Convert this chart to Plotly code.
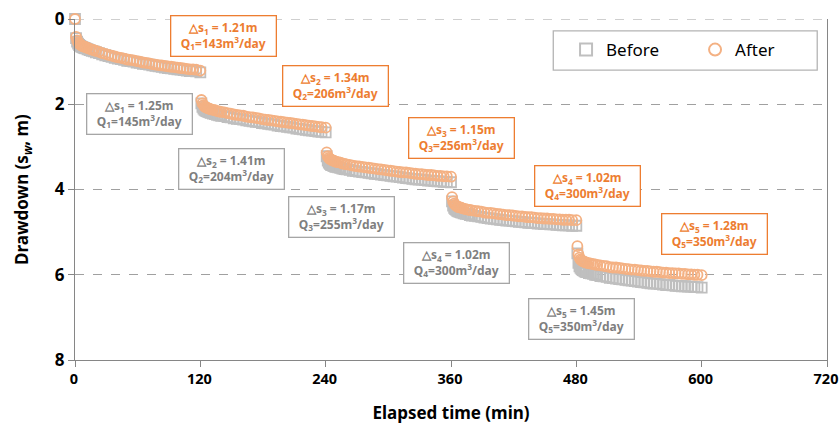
import plotly.graph_objects as go

# ---- data ----
STEP_START = [0, 120, 240, 360, 480]
REL_T = [1, 2, 3, 4, 5, 6, 7, 8, 9, 10, 12, 14, 16, 18, 20,
         23, 26, 29, 32, 35, 38, 41, 44, 47, 50, 53, 56, 59, 62, 65, 68, 71, 74, 77, 80,
         83, 86, 89, 92, 95, 98, 101, 104, 107, 110, 113, 116, 120]

after_s1 = [0.42, 0.50, 0.55, 0.58, 0.60, 0.62, 0.63, 0.64, 0.65, 0.66, 0.68, 0.70, 0.72, 0.73, 0.75,
            0.77, 0.80, 0.82, 0.84, 0.86, 0.88, 0.90, 0.91, 0.93, 0.95, 0.96, 0.97, 0.99, 1.00, 1.02, 1.03, 1.04,
            1.06, 1.07, 1.08, 1.09, 1.10, 1.11, 1.12, 1.13, 1.14, 1.15, 1.16, 1.17, 1.18, 1.18, 1.19, 1.21]
after_s2 = [1.90, 1.98, 2.02, 2.05, 2.07, 2.08, 2.09, 2.10, 2.11, 2.12, 2.13, 2.14, 2.16, 2.17, 2.18,
            2.19, 2.21, 2.22, 2.24, 2.25, 2.26, 2.27, 2.29, 2.30, 2.31, 2.32, 2.33, 2.35, 2.36, 2.37, 2.38, 2.39,
            2.40, 2.41, 2.42, 2.43, 2.44, 2.45, 2.46, 2.47, 2.48, 2.49, 2.50, 2.51, 2.52, 2.53, 2.54, 2.55]
after_s3 = [3.13, 3.22, 3.26, 3.28, 3.30, 3.31, 3.32, 3.33, 3.34, 3.35, 3.36, 3.37, 3.39, 3.40, 3.41,
            3.42, 3.44, 3.45, 3.46, 3.47, 3.48, 3.49, 3.50, 3.51, 3.52, 3.53, 3.54, 3.55, 3.56, 3.57, 3.58, 3.59,
            3.60, 3.60, 3.61, 3.62, 3.63, 3.64, 3.64, 3.65, 3.66, 3.66, 3.67, 3.68, 3.68, 3.69, 3.69, 3.70]
after_s4 = [4.18, 4.28, 4.33, 4.36, 4.38, 4.40, 4.41, 4.42, 4.42, 4.43, 4.45, 4.46, 4.47, 4.48, 4.49,
            4.50, 4.51, 4.52, 4.54, 4.55, 4.55, 4.56, 4.57, 4.58, 4.59, 4.60, 4.60, 4.61, 4.62, 4.63, 4.63, 4.64,
            4.65, 4.65, 4.66, 4.67, 4.67, 4.68, 4.68, 4.69, 4.69, 4.70, 4.70, 4.71, 4.71, 4.71, 4.72, 4.72]
after_s5 = [5.33, 5.52, 5.60, 5.64, 5.66, 5.68, 5.69, 5.70, 5.71, 5.72, 5.73, 5.74, 5.75, 5.76, 5.77,
            5.78, 5.79, 5.80, 5.82, 5.83, 5.83, 5.84, 5.85, 5.86, 5.87, 5.88, 5.88, 5.89, 5.90, 5.91, 5.91, 5.92,
            5.93, 5.93, 5.94, 5.95, 5.95, 5.96, 5.96, 5.97, 5.97, 5.98, 5.98, 5.99, 5.99, 6.00, 6.00, 6.01]

before_s1 = [0.45, 0.53, 0.58, 0.61, 0.63, 0.65, 0.66, 0.67, 0.68, 0.69, 0.71, 0.73, 0.75, 0.76, 0.78,
             0.80, 0.83, 0.85, 0.87, 0.89, 0.91, 0.93, 0.94, 0.96, 0.98, 0.99, 1.00, 1.02, 1.03, 1.05, 1.06, 1.07,
             1.09, 1.10, 1.11, 1.12, 1.14, 1.15, 1.16, 1.17, 1.18, 1.19, 1.20, 1.21, 1.22, 1.22, 1.23, 1.25]
before_s2 = [1.98, 2.06, 2.10, 2.13, 2.15, 2.16, 2.17, 2.18, 2.19, 2.20, 2.22, 2.23, 2.25, 2.26, 2.27,
             2.28, 2.30, 2.31, 2.33, 2.34, 2.35, 2.36, 2.38, 2.39, 2.40, 2.41, 2.42, 2.44, 2.45, 2.46, 2.47, 2.48,
             2.50, 2.51, 2.52, 2.53, 2.54, 2.55, 2.57, 2.58, 2.59, 2.60, 2.61, 2.62, 2.63, 2.64, 2.65, 2.66]
before_s3 = [3.22, 3.32, 3.37, 3.40, 3.42, 3.43, 3.44, 3.45, 3.46, 3.47, 3.48, 3.49, 3.51, 3.52, 3.53,
             3.54, 3.56, 3.57, 3.58, 3.59, 3.60, 3.61, 3.62, 3.63, 3.64, 3.65, 3.66, 3.67, 3.68, 3.69, 3.70, 3.71,
             3.72, 3.73, 3.74, 3.75, 3.76, 3.77, 3.77, 3.78, 3.79, 3.79, 3.80, 3.81, 3.81, 3.82, 3.82, 3.83]
before_s4 = [4.28, 4.38, 4.43, 4.46, 4.48, 4.50, 4.51, 4.52, 4.53, 4.54, 4.56, 4.57, 4.58, 4.60, 4.61,
             4.62, 4.63, 4.64, 4.66, 4.67, 4.68, 4.69, 4.70, 4.71, 4.72, 4.73, 4.73, 4.74, 4.75, 4.76, 4.76, 4.77,
             4.78, 4.78, 4.79, 4.80, 4.80, 4.81, 4.81, 4.82, 4.82, 4.83, 4.83, 4.84, 4.84, 4.84, 4.85, 4.85]
before_s5 = [5.50, 5.72, 5.80, 5.84, 5.87, 5.89, 5.90, 5.92, 5.93, 5.94, 5.96, 5.97, 5.98, 6.00, 6.01,
             6.03, 6.04, 6.05, 6.07, 6.08, 6.09, 6.10, 6.11, 6.12, 6.13, 6.14, 6.15, 6.16, 6.17, 6.18, 6.19, 6.20,
             6.21, 6.21, 6.22, 6.23, 6.24, 6.24, 6.25, 6.26, 6.26, 6.27, 6.27, 6.28, 6.28, 6.29, 6.29, 6.30]

INITIAL_T = 0
INITIAL_S = 0.0

# annotation labels: (step, delta_s, Q)
after_labels = [(1, "1.21", "143"), (2, "1.34", "206"), (3, "1.15", "256"), (4, "1.02", "300"), (5, "1.28", "350")]
before_labels = [(1, "1.25", "145"), (2, "1.41", "204"), (3, "1.17", "255"), (4, "1.02", "300"), (5, "1.45", "350")]
after_label_pos = [(142, 0.39), (249.5, 1.56), (370, 2.79), (491, 3.92), (612.5, 5.05)]
before_label_pos = [(62, 2.23), (149.5, 3.52), (255.5, 4.65), (365, 5.73), (485, 7.04)]

X_TICKS = [0, 120, 240, 360, 480, 600, 720]
Y_TICKS = [0, 2, 4, 6, 8]
Y_TOP = 0

# ---- assemble ----
def series(steps):
    t = [INITIAL_T]
    s = [INITIAL_S]
    for start, vals in zip(STEP_START, steps):
        assert len(vals) == len(REL_T), (start, len(vals))
        t += [start + r for r in REL_T]
        s += vals
    return t, s

bt, bs = series([before_s1, before_s2, before_s3, before_s4, before_s5])
at, as_ = series([after_s1, after_s2, after_s3, after_s4, after_s5])

ORANGE_TXT = "#ED7D31"
ORANGE_MK = "#F4B183"
GRAY_MK = "#BFBFBF"
GRAY_TXT = "#7F7F7F"
GRID = "#A0A0A0"
FONT = "Noto Sans"

fig = go.Figure()
fig.add_trace(go.Scatter(x=bt, y=bs, mode="markers", name="Before", cliponaxis=False,
                         marker=dict(symbol="square-open", size=10, color=GRAY_MK, line=dict(width=1.8))))
fig.add_trace(go.Scatter(x=at, y=as_, mode="markers", name="After", cliponaxis=False,
                         marker=dict(symbol="circle-open", size=10, color=ORANGE_MK, line=dict(width=1.8))))

annotations = []
for labels, positions, tcol, bcol in ((after_labels, after_label_pos, ORANGE_TXT, ORANGE_TXT),
                                      (before_labels, before_label_pos, GRAY_TXT, "#A6A6A6")):
    for (k, ds, q), (x, y) in zip(labels, positions):
        annotations.append(dict(
            x=x, y=y, xref="x", yref="y", showarrow=False,
            text=f"△s<sub>{k}</sub> = {ds}m<br>Q<sub>{k}</sub>={q}m<sup>3</sup>/day",
            font=dict(family=FONT, size=12, color=tcol, weight="bold"),
            bordercolor=bcol, borderwidth=1.3, borderpad=2, bgcolor="white",
            width=100, height=35, align="center", valign="middle"))

fig.update_layout(
    width=839, height=424,
    margin=dict(l=75, r=12, t=19, b=64, autoexpand=False),
    plot_bgcolor="white", paper_bgcolor="white",
    font=dict(family=FONT, color="black"),
    annotations=annotations,
    showlegend=True,
    legend=dict(orientation="h", x=0.653, y=0.909, xanchor="left", yanchor="middle",
                bgcolor="rgba(0,0,0,0)", font=dict(family=FONT, size=17, color="black"),
                entrywidth=84, itemsizing="constant"),
    shapes=[
        dict(type="line", xref="paper", x0=0, x1=1, yref="y", y0=Y_TOP, y1=Y_TOP,
             line=dict(color=GRID, width=1, dash="dash"), layer="below"),
        dict(type="rect", xref="paper", yref="paper", x0=0.636, x1=0.987, y0=0.850, y1=0.965,
             line=dict(color="#B4B4B4", width=1.3), fillcolor="white", layer="below"),
    ],
)
fig.update_xaxes(range=[0, 720], tickvals=X_TICKS, ticks="outside", ticklen=6, tickcolor="#868686",
                 showline=True, linecolor="#868686", linewidth=1, showgrid=False, zeroline=False,
                 ticklabeloverflow="allow", ticklabelshift=-1,
                 tickfont=dict(family=FONT, size=14.5, weight="bold"),
                 title=dict(text="Elapsed time (min)", font=dict(family=FONT, size=17, weight="bold"), standoff=19))
fig.update_yaxes(range=[8, 0], tickvals=Y_TICKS, ticks="outside", ticklen=6, tickcolor="#868686",
                 showline=True, linecolor="#868686", linewidth=1, mirror=True,
                 showgrid=True, gridcolor=GRID, griddash="dash", gridwidth=1, zeroline=False,
                 ticklabeloverflow="allow",
                 tickfont=dict(family=FONT, size=17, weight="bold"),
                 title=dict(text="Drawdown (s<sub><i>w</i></sub>, m)", font=dict(family=FONT, size=17, weight="bold"), standoff=21))

# remove the default page margin so the 839x424 figure fills the window exactly
fig.write_html("out.html",
               config={"displayModeBar": False},
               post_script="document.body.style.margin='0';document.body.style.overflow='hidden';")
